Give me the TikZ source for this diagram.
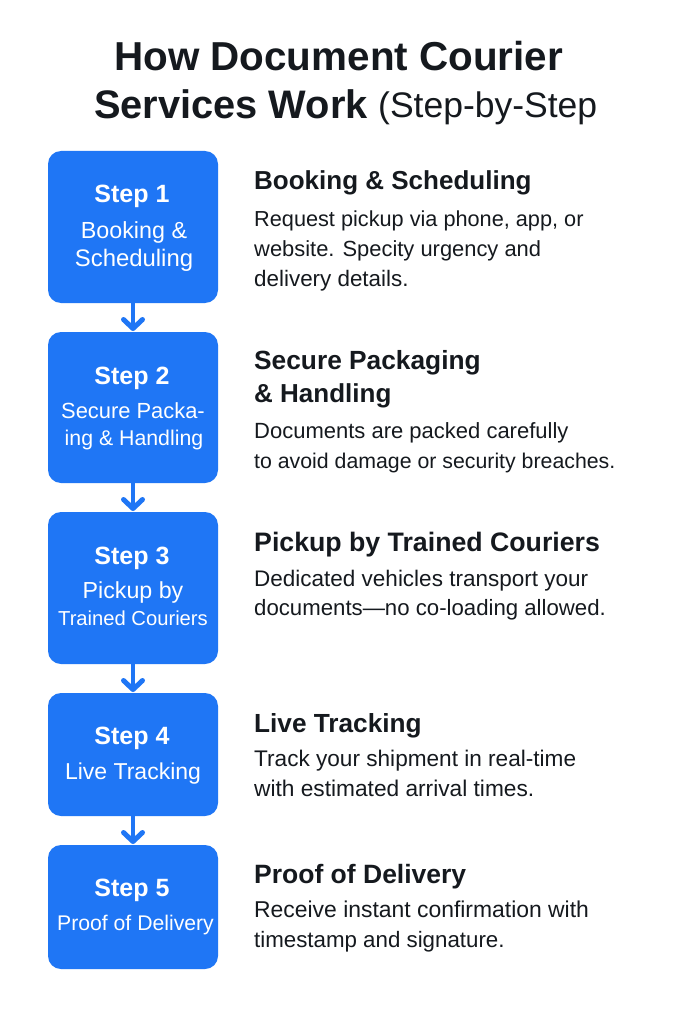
\documentclass[tikz,border=0pt]{standalone}
\usepackage{fontspec}
\setmainfont{Liberation Sans}
\usetikzlibrary{arrows.meta}
\definecolor{stepblue}{HTML}{1F76F5}
\definecolor{inkdark}{HTML}{15191E}
\tikzset{
	stepbox/.style = {fill = stepblue, rounded corners = 13pt, draw = none},
	titletext/.style = {inkdark, anchor = base west, inner sep = 0, font = \fontsize{#1pt}{40pt}\selectfont\bfseries},
	steptitle/.style = {white, anchor = base, font = \fontsize{25pt}{28pt}\selectfont\bfseries, inner sep = 0},
	stepname/.style = {white, anchor = base, font = \fontsize{#1pt}{26pt}\selectfont, inner sep = 0},
	headtext/.style = {inkdark, anchor = base west, font = \fontsize{#1pt}{30pt}\selectfont\bfseries, inner sep = 0},
	bodytext/.style = {inkdark, anchor = base west, font = \fontsize{#1pt}{26pt}\selectfont, inner sep = 0},
	flow/.style = {-{Straight Barb[length = 9pt, width = 19pt, line width = 5pt, round]}, stepblue, line width = 4pt}
}
\begin{document}
\begin{tikzpicture}[x = 1pt, y = -1pt]
	% page, 683 x 1024
	\useasboundingbox[fill = white] (0, 0) rectangle (683, 1024);
	
	% title
	\node[titletext = 40.4] (titletop) at (114, 71) {How Document Courier};
	\node[titletext = 39.8] (titlebottom) at (94, 119) {Services Work};
	\node[titletext = 35.5, font = \fontsize{35.5pt}{40pt}\selectfont\mdseries] (titleparen) at (378, 118) {(Step-by-Step};
	
	% boxes
	\fill[stepbox] (48, 151) rectangle (218, 303);
	\fill[stepbox] (48, 332) rectangle (218, 483);
	\fill[stepbox] (48, 512) rectangle (218, 664);
	\fill[stepbox] (48, 693) rectangle (218, 816);
	\fill[stepbox] (48, 845) rectangle (218, 969);
	
	% box texts
	\node[steptitle] (stepa) at (132, 203) {Step 1};
	\node[stepname = 23.3] (namea) at (134, 238) {Booking \&};
	\node[stepname = 23.9] (nameaa) at (134, 266) {Scheduling};
	\node[steptitle] (stepb) at (132, 384) {Step 2};
	\node[stepname = 21.9] (nameb) at (133, 418) {Secure Packa-};
	\node[stepname = 21.3] (namebb) at (134, 445) {ing \& Handling};
	\node[steptitle] (stepc) at (132, 564) {Step 3};
	\node[stepname = 23.2] (namec) at (133, 598) {Pickup by};
	\node[stepname = 20.2] (namecc) at (133, 625) {Trained Couriers};
	\node[steptitle] (stepd) at (132, 744) {Step 4};
	\node[stepname = 23] (named) at (133, 779) {Live Tracking};
	\node[steptitle] (stepe) at (132, 896) {Step 5};
	\node[stepname = 21.2] (namee) at (135.5, 930) {Proof of Delivery};
	
	% arrows between boxes
	\coordinate (boxaout) at (133, 303);
	\coordinate (boxbin) at (133, 331);
	\coordinate (boxbout) at (133, 483);
	\coordinate (boxcin) at (133, 511);
	\coordinate (boxcout) at (133, 664);
	\coordinate (boxdin) at (133, 692);
	\coordinate (boxdout) at (133, 816);
	\coordinate (boxein) at (133, 844);
	\draw[flow] (boxaout) -- (boxbin);
	\draw[flow] (boxbout) -- (boxcin);
	\draw[flow] (boxcout) -- (boxdin);
	\draw[flow] (boxdout) -- (boxein);
	
	% right column
	\node[headtext = 26] (heada) at (254, 190) {Booking \& Scheduling};
	\node[bodytext = 21.7] (bodya) at (254, 226) {Request pickup via phone, app, or};
	\node[bodytext = 21.9] (bodyaa) at (254, 256) {website. Specity urgency and};
	\node[bodytext = 22.4] (bodyaaa) at (254, 286) {delivery details.};
	\node[headtext = 26.3] (headb) at (254, 369) {Secure Packaging};
	\node[headtext = 26] (headbb) at (254, 402) {\& Handling};
	\node[bodytext = 22] (bodyb) at (254, 438) {Documents are packed carefully};
	\node[bodytext = 21.3] (bodybb) at (254, 468) {to avoid damage or security breaches.};
	\node[headtext = 26.7] (headc) at (254, 551) {Pickup by Trained Couriers};
	\node[bodytext = 22.5] (bodyc) at (254, 586) {Dedicated vehicles transport your};
	\node[bodytext = 22.2] (bodycc) at (254, 615) {documents—no co-loading allowed.};
	\node[headtext = 26.2] (headd) at (254, 732) {Live Tracking};
	\node[bodytext = 22.6] (bodyd) at (254, 766) {Track your shipment in real-time};
	\node[bodytext = 22.7] (bodydd) at (254, 796) {with estimated arrival times.};
	\node[headtext = 26.5] (heade) at (254, 883) {Proof of Delivery};
	\node[bodytext = 22.9] (bodye) at (254, 917) {Receive instant confirmation with};
	\node[bodytext = 22.3] (bodyee) at (254, 947) {timestamp and signature.};
\end{tikzpicture}
\end{document}
